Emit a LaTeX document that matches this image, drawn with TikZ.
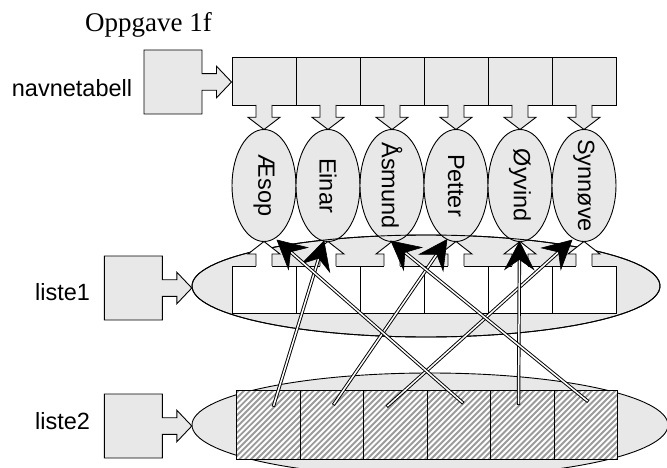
\documentclass[tikz,border=0pt]{standalone}
\usepackage{fontspec}
\setsansfont{Liberation Sans}
\newfontfamily\headingfont{Liberation Serif}
\usetikzlibrary{shapes.geometric,calc}
\definecolor{boxgray}{RGB}{232,232,232}
\definecolor{hatchgray}{RGB}{155,155,155}

\begin{document}
\begin{tikzpicture}[x=1pt,y=-1pt,
  outl/.style={draw=black, line width=0.9pt, line join=miter},
  grayshape/.style={outl, fill=boxgray},
  lbl/.style={font=\sffamily\fontsize{23.5}{28}\selectfont, inner sep=0pt},
  cellbox/.style={outl, minimum width=64pt, inner sep=0pt, anchor=north west},
  listcell/.style={outl, minimum width=63.5pt, minimum height=69pt, inner sep=0pt, anchor=north west},
  nameell/.style={grayshape, ellipse, minimum width=64pt, minimum height=112pt, inner sep=0pt},
  hatch/.style={draw=hatchgray, line width=1.9pt},
  ptrout/.style={black, line width=3.4pt, shorten >=16pt},
  ptrin/.style={white, line width=1.5pt, shorten >=18pt, shorten <=0.9pt},
  ptrhead/.style={fill=black, draw=black, line width=0.6pt, line join=miter},
  pointerbox/.pic={
    \draw[grayshape] (0,0) -- (58,0) -- (58,23.7) -- (72.5,23.7) -- (72.5,16.2)
      -- (87.5,32) -- (72.5,47.8) -- (72.5,40.3) -- (58,40.3) -- (58,64)
      -- (0,64) -- cycle;
  }]
\useasboundingbox (0,0) rectangle (667,468);
\clip (0,0) rectangle (667,468);

% heading and row labels
\node[anchor=base west, inner sep=0pt, font=\headingfont\fontsize{27}{32}\selectfont] (title) at (85,31.7) {Oppgave 1f};
\node[lbl, anchor=base west] (lblnavn) at (11.7,96.7) {navnetabell};
\node[lbl, anchor=base west] (lblliste1) at (35,300) {liste1};
\node[lbl, anchor=base west] (lblliste2) at (35,429) {liste2};

% navnetabell: pointer and the array of six slots
\pic at (144,50) {pointerbox};
\foreach \k in {0,...,5}
  \node[cellbox, fill=boxgray, minimum height=48pt] (nt\k) at ({232+64*\k},57) {};

% block arrows from each slot down to its name
\foreach \k in {0,...,5} {
  \pgfmathsetmacro\cx{264+64*\k}
  \fill[boxgray] (\cx-8,104) -- (\cx-8,117.3) -- (\cx-16,117.3) -- (\cx,129.5)
    -- (\cx+16,117.3) -- (\cx+8,117.3) -- (\cx+8,104) -- cycle;
  \draw[outl] (\cx-8,105) -- (\cx-8,117.3) -- (\cx-16,117.3) -- (\cx,129.5)
    -- (\cx+16,117.3) -- (\cx+8,117.3) -- (\cx+8,105);
}

% liste1 background
\node[grayshape, ellipse, minimum width=468pt, minimum height=102pt, inner sep=0pt] (l1ell) at (426,286) {};

% the name objects
\foreach \k/\id/\nm in {0/Aesop/Æsop, 1/Einar/Einar, 2/Asmund/Åsmund,
                        3/Petter/Petter, 4/Oyvind/Øyvind, 5/Synnove/Synnøve} {
  \node[nameell] (\id) at ({264+64*\k},185.5) {};
  \node[lbl, rotate=-90] (txt\id) at (\id) {\nm};
}
% outline of the liste1 background stays visible across the names
\draw[outl] (l1ell.center) ellipse [x radius=234, y radius=51];

% liste1: six slots with white block arrows up to the names
\foreach \k in {0,...,5}
  \node[cellbox, fill=white, minimum height=47pt] (lc\k) at ({232+64*\k},266) {};
\foreach \k in {0,...,5} {
  \pgfmathsetmacro\cx{264+64*\k}
  \fill[white] (\cx-8,267) -- (\cx-8,254) -- (\cx-16,254) -- (\cx,241.5)
    -- (\cx+16,254) -- (\cx+8,254) -- (\cx+8,267) -- cycle;
  \draw[outl] (\cx-8,266) -- (\cx-8,254) -- (\cx-16,254) -- (\cx,241.5)
    -- (\cx+16,254) -- (\cx+8,254) -- (\cx+8,266);
}
\pic at (104.3,256) {pointerbox};

% liste2: background, hatched slots, pointer
\node[grayshape, ellipse, minimum width=476pt, minimum height=104pt, inner sep=0pt] (l2ell) at (430,425) {};
\fill[white] (236,390) rectangle (617,459);
\begin{scope}
  \clip (236,390) rectangle (617,459);
  \foreach \k in {0,...,80}
    \draw[hatch] ({167+5.8*\k},462) -- ++(74,-74);
\end{scope}
\foreach \k in {0,...,5}
  \node[listcell] (mc\k) at ({236+63.5*\k},390) {};
\pic at (104.3,394) {pointerbox};

% references from liste2 to the names: double line with a notched head
\coordinate (s1) at (273.3,406.7);
\coordinate (s2) at (333.3,405);
\coordinate (s3) at (386.7,406.7);
\coordinate (s4) at (463.3,403.3);
\coordinate (s5) at (518.5,405);
\coordinate (s6) at (588.3,401.7);
\coordinate (tEinar) at (324,241);
\coordinate (tPetter) at (447,239.5);
\coordinate (tSynnove) at (572,240);
\coordinate (tAesop) at (277,240);
\coordinate (tOyvind) at (519.5,241.5);
\coordinate (tAsmund) at (391,241);
\foreach \s/\t in {s1/tEinar, s2/tPetter, s3/tSynnove, s4/tAesop, s5/tOyvind, s6/tAsmund} {
  \draw[ptrout] (\s) -- (\t);
  \draw[ptrin] (\s) -- (\t);
  \coordinate (hb) at ($(\t)!28pt!(\s)$);
  \coordinate (hn) at ($(\t)!18pt!(\s)$);
  \coordinate (hl) at ($(hb)!14.5pt!90:(\t)$);
  \coordinate (hr) at ($(hb)!14.5pt!-90:(\t)$);
  \draw[ptrhead] (\t) -- (hl) -- (hn) -- (hr) -- cycle;
}
\end{tikzpicture}
\end{document}
